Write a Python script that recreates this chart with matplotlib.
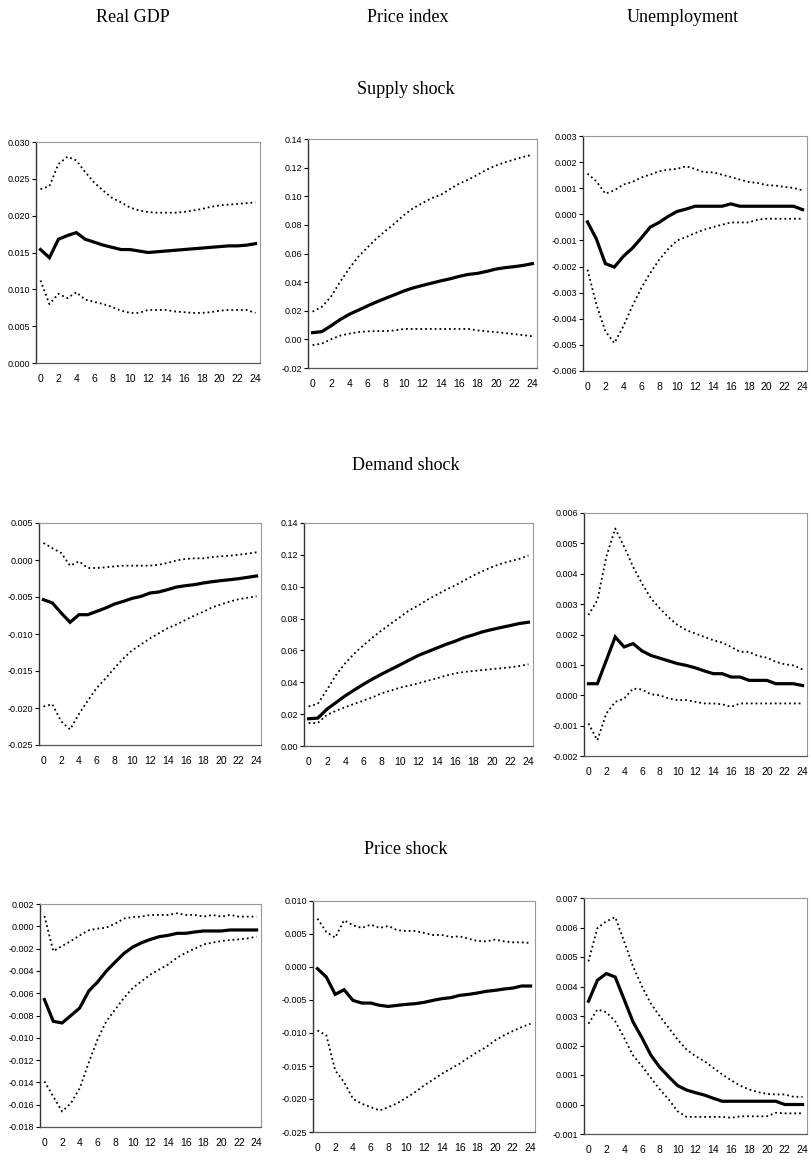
import numpy as np
import matplotlib.pyplot as plt
from matplotlib.ticker import FuncFormatter

W, H = 812, 1162

horizon = list(range(25))
col_titles = ["Real GDP", "Price index", "Unemployment"]
row_titles = ["Supply shock", "Demand shock", "Price shock"]
x_ticks = list(range(0, 25, 2))

# ---- supply shock ----
sup_gdp = [0.0154, 0.0143, 0.0168, 0.0173, 0.0177, 0.0168, 0.0164, 0.0160, 0.0157, 0.0154, 0.0154, 0.0152, 0.0150,
           0.0151, 0.0152, 0.0153, 0.0154, 0.0155, 0.0156, 0.0157, 0.0158, 0.0159, 0.0159, 0.0160, 0.0162]
sup_gdp_hi = [0.0236, 0.0240, 0.0270, 0.0280, 0.0275, 0.0259, 0.0245, 0.0234, 0.0224, 0.0218, 0.0211, 0.0207, 0.0205,
              0.0204, 0.0204, 0.0204, 0.0205, 0.0207, 0.0209, 0.0212, 0.0214, 0.0215, 0.0216, 0.0217, 0.0218]
sup_gdp_lo = [0.0112, 0.0080, 0.0094, 0.0088, 0.0096, 0.0086, 0.0083, 0.0080, 0.0076, 0.0071, 0.0068, 0.0068, 0.0072,
              0.0072, 0.0072, 0.0070, 0.0069, 0.0068, 0.0068, 0.0069, 0.0071, 0.0072, 0.0072, 0.0072, 0.0068]

sup_price = [0.0047, 0.0054, 0.0094, 0.0138, 0.0175, 0.0204, 0.0234, 0.0262, 0.0288, 0.0313, 0.0339, 0.0360, 0.0377,
             0.0393, 0.0409, 0.0423, 0.0440, 0.0454, 0.0461, 0.0475, 0.0491, 0.0501, 0.0508, 0.0517, 0.0529]
sup_price_hi = [0.0194, 0.0227, 0.0297, 0.0402, 0.0496, 0.0578, 0.0643, 0.0706, 0.0760, 0.0812, 0.0870, 0.0917, 0.0952,
                0.0987, 0.1010, 0.1050, 0.1088, 0.1116, 0.1150, 0.1186, 0.1214, 0.1237, 0.1256, 0.1275, 0.1290]
sup_price_lo = [-0.0040, -0.0030, 0.0000, 0.0026, 0.0040, 0.0051, 0.0056, 0.0058, 0.0058, 0.0063, 0.0073, 0.0073, 0.0073,
                0.0073, 0.0073, 0.0073, 0.0073, 0.0073, 0.0063, 0.0056, 0.0051, 0.0044, 0.0037, 0.0030, 0.0021]

sup_unemp = [-0.00029, -0.00095, -0.00189, -0.00202, -0.00161, -0.00130, -0.00091, -0.00049, -0.00031, -0.00008,
             0.00011, 0.00020, 0.00031, 0.00031, 0.00031, 0.00031, 0.00040, 0.00031, 0.00031, 0.00031, 0.00031,
             0.00031, 0.00031, 0.00031, 0.00018]
sup_unemp_hi = [0.00156, 0.00126, 0.00079, 0.00092, 0.00114, 0.00124, 0.00141, 0.00152, 0.00165, 0.00171, 0.00174,
                0.00184, 0.00174, 0.00161, 0.00161, 0.00152, 0.00143, 0.00133, 0.00124, 0.00120, 0.00112, 0.00110,
                0.00105, 0.00101, 0.00092]
sup_unemp_lo = [-0.00212, -0.00346, -0.00448, -0.00493, -0.00429, -0.00352, -0.00282, -0.00225, -0.00174, -0.00133,
                -0.00100, -0.00087, -0.00072, -0.00059, -0.00049, -0.00040, -0.00031, -0.00031, -0.00031, -0.00020,
                -0.00017, -0.00017, -0.00017, -0.00017, -0.00017]

# ---- demand shock ----
dem_gdp = [-0.00536, -0.00580, -0.00716, -0.00842, -0.00739, -0.00739, -0.00694, -0.00649, -0.00595, -0.00559,
           -0.00518, -0.00491, -0.00446, -0.00432, -0.00400, -0.00365, -0.00347, -0.00333, -0.00311, -0.00293,
           -0.00279, -0.00266, -0.00252, -0.00234, -0.00216]
dem_gdp_hi = [0.00230, 0.00160, 0.00095, -0.00077, -0.00018, -0.00108, -0.00108, -0.00099, -0.00086, -0.00077,
              -0.00077, -0.00077, -0.00077, -0.00063, -0.00040, -0.00005, 0.00014, 0.00023, 0.00023, 0.00040,
              0.00050, 0.00059, 0.00072, 0.00086, 0.00104]
dem_gdp_lo = [-0.0198, -0.0195, -0.0218, -0.0229, -0.0208, -0.0190, -0.0173, -0.0160, -0.0146, -0.0133, -0.0122,
              -0.0114, -0.0106, -0.0099, -0.0092, -0.0087, -0.0081, -0.0075, -0.0070, -0.0064, -0.0060, -0.0056,
              -0.0053, -0.0051, -0.0049]

dem_price = [0.0171, 0.0175, 0.0231, 0.0273, 0.0315, 0.0352, 0.0388, 0.0421, 0.0452, 0.0481, 0.0510, 0.0540, 0.0569,
             0.0592, 0.0615, 0.0638, 0.0658, 0.0681, 0.0698, 0.0717, 0.0731, 0.0744, 0.0756, 0.0769, 0.0777]
dem_price_hi = [0.0248, 0.0265, 0.0352, 0.0446, 0.0519, 0.0581, 0.0633, 0.0681, 0.0727, 0.0769, 0.0810, 0.0852, 0.0883,
                0.0919, 0.0950, 0.0981, 0.1008, 0.1040, 0.1071, 0.1098, 0.1123, 0.1144, 0.1160, 0.1175, 0.1196]
dem_price_lo = [0.0144, 0.0144, 0.0196, 0.0221, 0.0244, 0.0265, 0.0285, 0.0306, 0.0331, 0.0348, 0.0367, 0.0379, 0.0394,
                0.0410, 0.0425, 0.0442, 0.0456, 0.0465, 0.0471, 0.0477, 0.0483, 0.0488, 0.0494, 0.0502, 0.0513]

dem_unemp = [0.00038, 0.00038, 0.00115, 0.00192, 0.00159, 0.00170, 0.00146, 0.00131, 0.00122, 0.00113, 0.00104,
             0.00098, 0.00090, 0.00080, 0.00071, 0.00071, 0.00060, 0.00060, 0.00049, 0.00049, 0.00049, 0.00038,
             0.00038, 0.00038, 0.00032]
dem_unemp_hi = [0.00264, 0.00313, 0.00456, 0.00549, 0.00489, 0.00423, 0.00368, 0.00319, 0.00286, 0.00256, 0.00231,
                0.00214, 0.00203, 0.00192, 0.00181, 0.00173, 0.00159, 0.00143, 0.00143, 0.00129, 0.00124, 0.00110,
                0.00102, 0.00098, 0.00085]
dem_unemp_lo = [-0.00093, -0.00148, -0.00060, -0.00022, -0.00011, 0.00022, 0.00019, 0.00003, 0.00000, -0.00011,
                -0.00016, -0.00016, -0.00022, -0.00027, -0.00027, -0.00030, -0.00038, -0.00027, -0.00027, -0.00027,
                -0.00027, -0.00027, -0.00027, -0.00027, -0.00027]

# ---- price shock ----
prc_gdp = [-0.00657, -0.00852, -0.00867, -0.00800, -0.00732, -0.00582, -0.00501, -0.00402, -0.00321, -0.00243,
           -0.00186, -0.00147, -0.00117, -0.00093, -0.00081, -0.00063, -0.00063, -0.00051, -0.00042, -0.00042,
           -0.00042, -0.00033, -0.00033, -0.00033, -0.00033]
prc_gdp_hi = [0.00093, -0.00222, -0.00177, -0.00132, -0.00081, -0.00036, -0.00021, -0.00012, 0.00024, 0.00069,
              0.00084, 0.00087, 0.00102, 0.00102, 0.00102, 0.00117, 0.00102, 0.00102, 0.00087, 0.00102, 0.00087,
              0.00102, 0.00087, 0.00087, 0.00087]
prc_gdp_lo = [-0.01391, -0.01526, -0.01661, -0.01586, -0.01451, -0.01226, -0.01016, -0.00852, -0.00747, -0.00642,
              -0.00552, -0.00492, -0.00432, -0.00387, -0.00342, -0.00282, -0.00237, -0.00201, -0.00162, -0.00147,
              -0.00132, -0.00123, -0.00117, -0.00108, -0.00093]

prc_price = [-0.00025, -0.00152, -0.00415, -0.00344, -0.00506, -0.00546, -0.00546, -0.00581, -0.00597, -0.00581,
             -0.00566, -0.00556, -0.00536, -0.00506, -0.00480, -0.00465, -0.00430, -0.00415, -0.00394, -0.00369,
             -0.00354, -0.00334, -0.00319, -0.00288, -0.00288]
prc_price_hi = [0.00733, 0.00531, 0.00445, 0.00708, 0.00632, 0.00592, 0.00642, 0.00592, 0.00622, 0.00556, 0.00546,
                0.00546, 0.00516, 0.00485, 0.00485, 0.00455, 0.00465, 0.00430, 0.00394, 0.00389, 0.00415, 0.00389,
                0.00374, 0.00374, 0.00364]
prc_price_lo = [-0.00961, -0.01036, -0.01567, -0.01744, -0.01997, -0.02073, -0.02123, -0.02174, -0.02123, -0.02063,
                -0.01982, -0.01896, -0.01795, -0.01709, -0.01618, -0.01542, -0.01466, -0.01375, -0.01289, -0.01213,
                -0.01112, -0.01036, -0.00971, -0.00910, -0.00860]

prc_unemp = [0.00350, 0.00421, 0.00444, 0.00432, 0.00356, 0.00280, 0.00226, 0.00167, 0.00126, 0.00094, 0.00064,
             0.00049, 0.00040, 0.00032, 0.00021, 0.00011, 0.00011, 0.00011, 0.00011, 0.00011, 0.00011, 0.00011,
             0.00000, 0.00000, 0.00000]
prc_unemp_hi = [0.00485, 0.00598, 0.00621, 0.00635, 0.00553, 0.00468, 0.00400, 0.00342, 0.00299, 0.00260, 0.00220,
                0.00186, 0.00164, 0.00147, 0.00124, 0.00102, 0.00082, 0.00064, 0.00051, 0.00042, 0.00036, 0.00034,
                0.00034, 0.00026, 0.00026]
prc_unemp_lo = [0.00274, 0.00322, 0.00313, 0.00282, 0.00226, 0.00166, 0.00130, 0.00090, 0.00051, 0.00017, -0.00023,
                -0.00042, -0.00042, -0.00042, -0.00042, -0.00042, -0.00045, -0.00040, -0.00040, -0.00040, -0.00040,
                -0.00028, -0.00030, -0.00030, -0.00030]

# y axis: (min, max, step, decimals) per panel
y_axes = [
    [(0.000, 0.030, 0.005, 3), (-0.02, 0.14, 0.02, 2), (-0.006, 0.003, 0.001, 3)],
    [(-0.025, 0.005, 0.005, 3), (0.00, 0.14, 0.02, 2), (-0.002, 0.006, 0.001, 3)],
    [(-0.018, 0.002, 0.002, 3), (-0.025, 0.010, 0.005, 3), (-0.001, 0.007, 0.001, 3)],
]
series = [
    [(sup_gdp, sup_gdp_hi, sup_gdp_lo), (sup_price, sup_price_hi, sup_price_lo), (sup_unemp, sup_unemp_hi, sup_unemp_lo)],
    [(dem_gdp, dem_gdp_hi, dem_gdp_lo), (dem_price, dem_price_hi, dem_price_lo), (dem_unemp, dem_unemp_hi, dem_unemp_lo)],
    [(prc_gdp, prc_gdp_hi, prc_gdp_lo), (prc_price, prc_price_hi, prc_price_lo), (prc_unemp, prc_unemp_hi, prc_unemp_lo)],
]

# axes boxes in pixels: left, top, right, bottom
boxes = [
    [(36, 142, 260, 363), (308, 139, 537, 368), (583, 136, 807, 371)],
    [(39, 523, 261, 745), (304, 523, 533, 746), (584, 513, 807, 756)],
    [(40, 904, 261, 1127), (313, 901, 535, 1132), (584, 898, 807, 1134)],
]

fig = plt.figure(figsize=(W / 100, H / 100), dpi=100)

for c, t in enumerate(col_titles):
    fig.text([133, 408, 683][c] / W, 1 - 17 / H, t, ha='center', va='center',
             family='Liberation Serif', fontsize=13)
for r, t in enumerate(row_titles):
    fig.text(406 / W, 1 - [90, 465, 850][r] / H, t, ha='center', va='center',
             family='Liberation Serif', fontsize=13)


def make_fmt(dec):
    def f(v, pos):
        s = f"{v:.{dec}f}"
        if float(s) == 0:
            s = s.lstrip('-')
        return s.replace('-', '-')
    return FuncFormatter(f)


for r in range(3):
    for c in range(3):
        l, t, rr, b = boxes[r][c]
        ax = fig.add_axes([l / W, 1 - b / H, (rr - l) / W, (b - t) / H])
        mid, hi, lo = series[r][c]
        ax.plot(horizon, hi, color='black', linestyle=':', linewidth=1.3)
        ax.plot(horizon, lo, color='black', linestyle=':', linewidth=1.3)
        ax.plot(horizon, mid, color='black', linewidth=2.3, solid_joinstyle='miter')
        ymin, ymax, step, dec = y_axes[r][c]
        ax.set_ylim(ymin, ymax)
        ax.set_yticks(np.arange(ymin, ymax + step / 2, step))
        ax.yaxis.set_major_formatter(make_fmt(dec))
        ax.set_xlim(-0.5, 24.5)
        ax.set_xticks(x_ticks)
        ax.tick_params(axis='y', direction='out', length=3, width=0.8, labelsize=6.5, pad=1)
        ax.tick_params(axis='x', length=0, labelsize=7.5, pad=8)
        for lab in ax.get_yticklabels() + ax.get_xticklabels():
            lab.set_family('Liberation Sans')
        for side in ['top', 'right']:
            ax.spines[side].set_color('#999999')
            ax.spines[side].set_linewidth(0.8)
        ax.spines['left'].set_color('#333333')
        ax.spines['left'].set_linewidth(1.0)
        ax.spines['bottom'].set_color('#555555')
        ax.spines['bottom'].set_linewidth(0.9)

fig.savefig('out.png', dpi=100)
